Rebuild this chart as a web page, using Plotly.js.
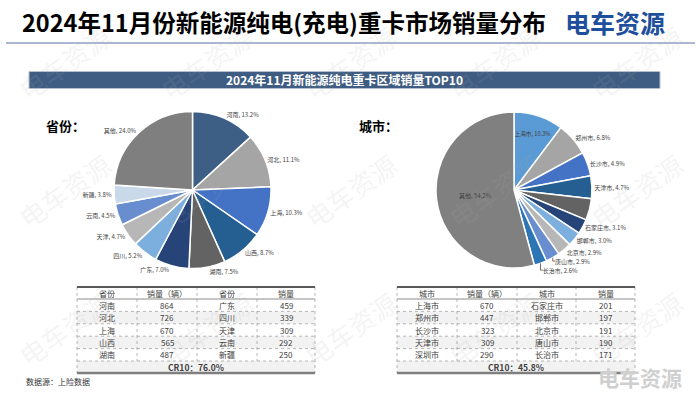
<!DOCTYPE html>
<html>
<head>
<meta charset="utf-8">
<script src="https://cdn.plot.ly/plotly-3.0.1.min.js"></script>
<style>
html,body{margin:0;padding:0;background:#fff;}
#chart{width:700px;height:394px;}
</style>
</head>
<body>
<div id="chart"></div>
<script>
// ---- data ----
const provinces = ['河南','河北','上海','山西','湖南','广东','四川','天津','云南','新疆','其他'];
const provinceSales = [864,726,670,565,487,459,339,309,292,250,1567];
const cities = ['上海市','郑州市','长沙市','天津市','深圳市','石家庄市','邯郸市','北京市','唐山市','长治市','其他'];
const citySales = [670,447,323,309,290,201,197,191,190,171,3537];
const provinceHeader = ['省份','销量（辆）','省份','销量'];
const cityHeader = ['城市','销量（辆）','城市','销量'];
const provinceCR10 = 'CR10：76.0%';
const cityCR10 = 'CR10：45.8%';
const mainTitle = '2024年11月份新能源纯电(充电)重卡市场销量分布';
const bannerTitle = '2024年11月新能源纯电重卡区域销量TOP10';
const sourceNote = '数据源：上险数据';
const brand = '电车资源';

// ---- styles ----
const provinceColors = ['#3d5f86','#a5a5a5','#4472c4','#255e91','#636363','#264478','#7cafdd','#b7b7b7','#698ed0','#c9d9ea','#7f7f7f'];
const cityColors = ['#5b9bd5','#a5a5a5','#4472c4','#255e91','#636363','#264478','#7cafdd','#b7b7b7','#698ed0','#2e75b6','#808080'];
const FONT = '"Noto Sans CJK SC", "Noto Sans", sans-serif';
const W = 700, H = 394;
const px = x => x / W;
const py = y => 1 - y / H;

function pieTrace(labels, values, colors, cx, cy, r, textpos, showText) {
  return {
    type: 'pie', labels: labels, values: values, sort: false, direction: 'clockwise', rotation: 0,
    marker: {colors: colors, line: {color: '#ffffff', width: 1.5}},
    domain: {x: [px(cx - r), px(cx + r)], y: [py(cy + r), py(cy - r)]},
    textposition: textpos,
    texttemplate: labels.map((l, i) => showText[i] ? '%{label}, %{percent:.1%}' : ''),
    textfont: {family: FONT, size: 6, color: '#404040'},
    insidetextorientation: 'horizontal',
    hoverinfo: 'label+value+percent', showlegend: false
  };
}

const data = [
  pieTrace(provinces, provinceSales, provinceColors, 192.5, 190, 78.5,
    provinces.map(() => 'outside'), provinces.map(() => true)),
  pieTrace(cities, citySales, cityColors, 514, 190, 78,
    cities.map((c, i) => (i === 0 || i === 10) ? 'inside' : 'outside'),
    cities.map((c, i) => i !== 4))
];

const shapes = [
  {type: 'line', xref: 'paper', yref: 'paper', x0: px(6), x1: px(695), y0: py(43), y1: py(43), line: {color: '#8ea0c0', width: 1.5}},
  {type: 'rect', xref: 'paper', yref: 'paper', x0: px(29), x1: px(660), y0: py(88.5), y1: py(71.5), fillcolor: '#3f5d82', line: {color: '#b4c0d0', width: 1}},
];
const ann = (text, x, y, opts) => Object.assign({text: text, x: px(x), y: py(y), xref: 'paper', yref: 'paper', showarrow: false, xanchor: 'center', yanchor: 'middle'}, opts);
const annotations = [];

// watermarks (drawn first so they sit beneath other texts)
[62, 190, 328].forEach(wy => [64, 206, 350, 494, 636].forEach(wx => {
  annotations.push(ann(brand, wx, wy, {textangle: -35, font: {family: FONT, size: 26, color: 'rgba(170,170,170,0.14)'}}));
}));

// ---- tables built from the data arrays ----
function addTable(names, values, header, cr10, colX) {
  const top = 287, headH = 12, rowH = 12.4, crH = 12;
  const x0 = colX[0], x1 = colX[colX.length - 1];
  const rowTop = i => top + headH + i * rowH;
  const crTop = rowTop(5), bottom = crTop + crH;
  const cols = [names.slice(0, 5), values.slice(0, 5), names.slice(5, 10), values.slice(5, 10)];
  for (let i = 0; i < 5; i++) {
    if (i % 2 === 1) shapes.push({type: 'rect', xref: 'paper', yref: 'paper', layer: 'below', x0: px(x0), x1: px(x1), y0: py(rowTop(i + 1)), y1: py(rowTop(i)), fillcolor: '#f2f2f2', line: {width: 0}});
  }
  shapes.push({type: 'rect', xref: 'paper', yref: 'paper', layer: 'below', x0: px(x0), x1: px(x1), y0: py(bottom), y1: py(crTop), fillcolor: '#f2f2f2', line: {width: 0}});
  for (let i = 1; i <= 5; i++) {
    shapes.push({type: 'line', xref: 'paper', yref: 'paper', x0: px(x0), x1: px(x1), y0: py(rowTop(i)), y1: py(rowTop(i)), line: {color: '#9a9a9a', width: 0.7, dash: 'dot'}});
  }
  shapes.push({type: 'line', xref: 'paper', yref: 'paper', x0: px(x0), x1: px(x1), y0: py(rowTop(0)), y1: py(rowTop(0)), line: {color: '#8c8c8c', width: 1}});
  colX.forEach((cx, k) => {
    const yEnd = (k === 0 || k === colX.length - 1) ? bottom : crTop;
    shapes.push({type: 'line', xref: 'paper', yref: 'paper', x0: px(cx), x1: px(cx), y0: py(top), y1: py(yEnd), line: {color: '#9a9a9a', width: 0.7, dash: 'dot'}});
  });
  shapes.push({type: 'line', xref: 'paper', yref: 'paper', x0: px(x0), x1: px(x1), y0: py(top), y1: py(top), line: {color: '#595959', width: 2}});
  shapes.push({type: 'line', xref: 'paper', yref: 'paper', x0: px(x0), x1: px(x1), y0: py(bottom), y1: py(bottom), line: {color: '#7f7f7f', width: 2.5}});
  const f = {family: FONT, size: 8, color: '#404040'};
  header.forEach((h, k) => annotations.push(ann(h, (colX[k] + colX[k + 1]) / 2, top + headH / 2 + 0.5, {font: f})));
  cols.forEach((col, k) => col.forEach((v, i) => annotations.push(ann(String(v), (colX[k] + colX[k + 1]) / 2, rowTop(i) + rowH / 2, {font: f}))));
  annotations.push(ann(cr10, (x0 + x1) / 2, crTop + crH / 2, {font: {family: FONT, size: 8.5, color: '#404040', weight: 'bold'}}));
}
addTable(provinces, provinceSales, provinceHeader, provinceCR10, [77, 137, 197, 257, 315]);
addTable(cities, citySales, cityHeader, cityCR10, [397, 457, 517, 576, 635]);

annotations.push(
  ann(mainTitle, 20, 22, {xanchor: 'left', font: {family: FONT, size: 23.5, color: '#000000', weight: 'bold'}}),
  ann(brand, 615, 22, {font: {family: FONT, size: 25, color: '#1e4f9c', weight: 'bold'}}),
  ann(bannerTitle, 344.5, 80, {font: {family: FONT, size: 12, color: '#ffffff', weight: 'bold'}}),
  ann('省份：', 44, 125, {xanchor: 'left', font: {family: FONT, size: 13, color: '#000000', weight: 'bold'}}),
  ann('城市：', 357, 125, {xanchor: 'left', font: {family: FONT, size: 13, color: '#000000', weight: 'bold'}}),
  ann(sourceNote, 24, 381, {xanchor: 'left', font: {family: FONT, size: 8, color: '#333333'}}),
  ann(brand, 640, 377, {font: {family: FONT, size: 21, color: '#cfcfcf', weight: 'bold'}})
);

const layout = {
  width: W, height: H, margin: {l: 0, r: 0, t: 0, b: 0},
  paper_bgcolor: '#ffffff', plot_bgcolor: '#ffffff',
  showlegend: false, shapes: shapes, annotations: annotations,
  font: {family: FONT}
};
Plotly.newPlot('chart', data, layout, {displayModeBar: false, staticPlot: true});
</script>
</body>
</html>
